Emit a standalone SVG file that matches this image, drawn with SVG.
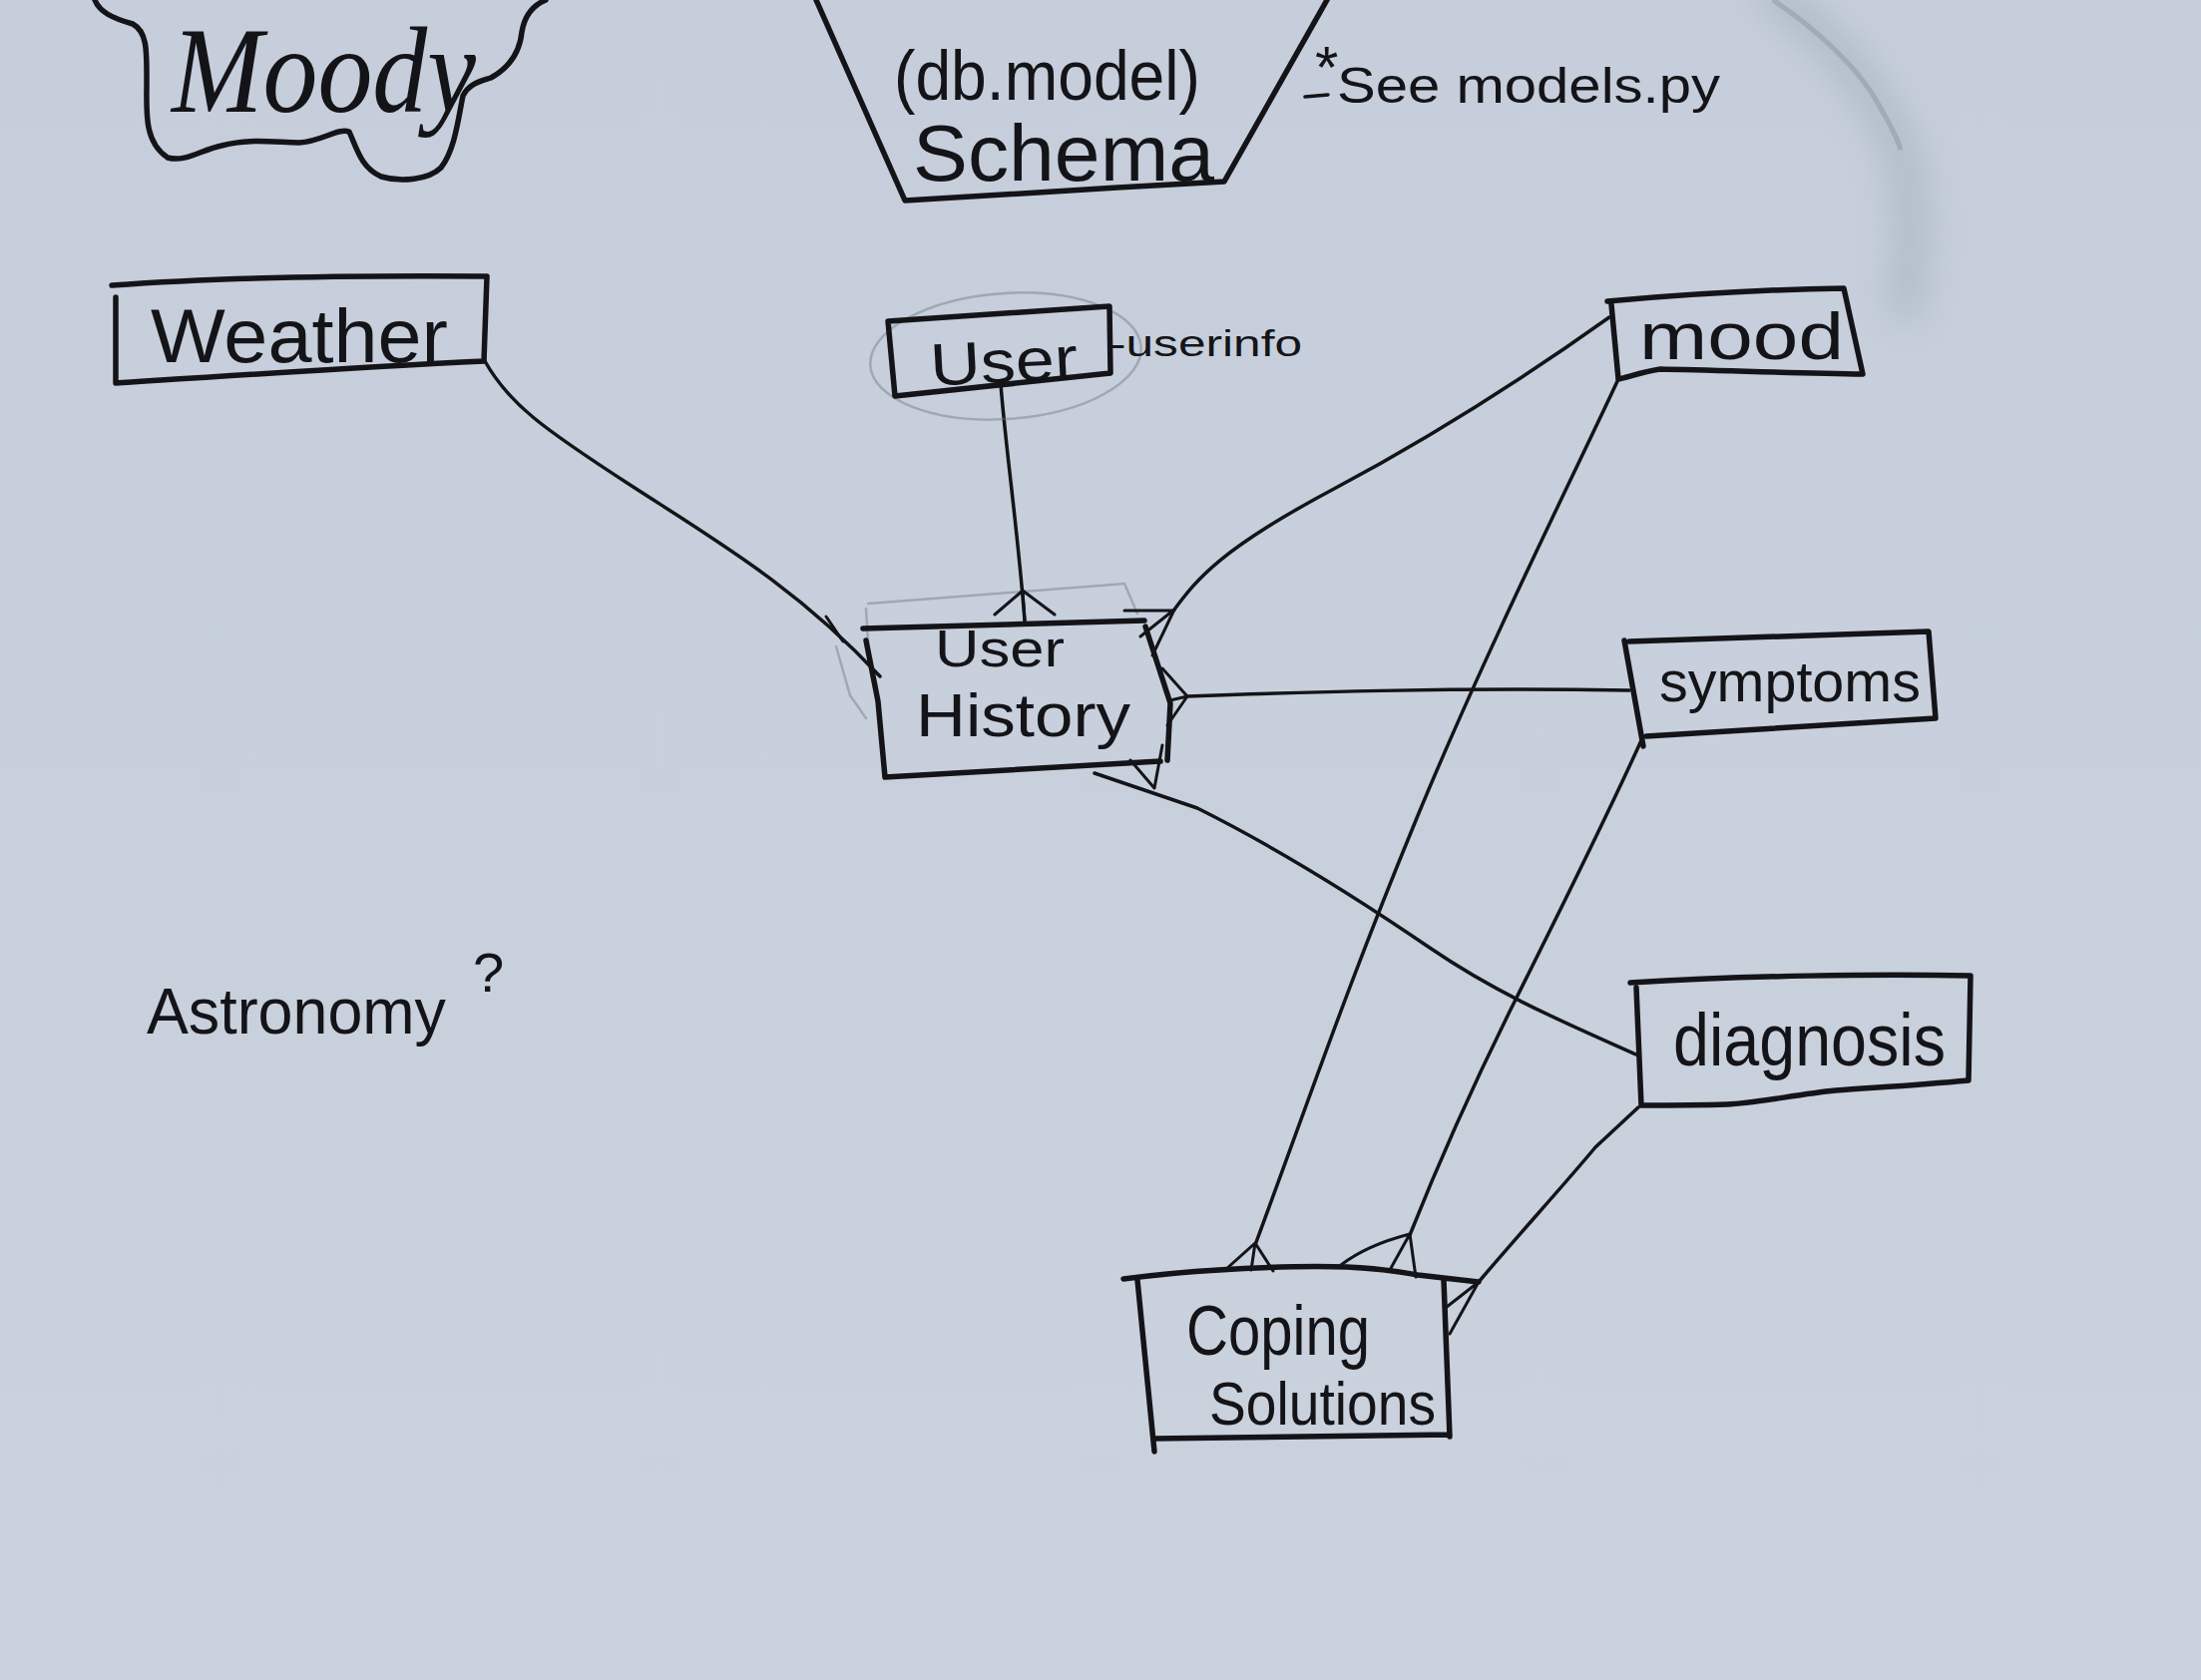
<svg xmlns="http://www.w3.org/2000/svg" width="2206" height="1684" viewBox="0 0 2206 1684">
<defs>
<style>
.ink{fill:none;stroke:#141418;stroke-linecap:round;stroke-linejoin:round}
.box{stroke-width:5.5}
.con{stroke-width:3.5}
.cf{stroke-width:3}
.pencil{fill:none;stroke:#6f7882;stroke-width:2.5;opacity:.45;stroke-linecap:round}
.t{font-family:"Liberation Sans","DejaVu Sans",sans-serif;fill:#141418}
.script{font-family:"Liberation Serif","DejaVu Serif",serif;font-style:italic;fill:#141418}
</style>
<linearGradient id="paper" x1="0" y1="0" x2="0" y2="1">
<stop offset="0" stop-color="#c5ceda"/>
<stop offset="1" stop-color="#c9d2dd"/>
</linearGradient>
<filter id="blur" x="-50%" y="-50%" width="200%" height="200%"><feGaussianBlur stdDeviation="18"/></filter>
</defs>
<rect width="2206" height="1684" fill="url(#paper)"/>
<path d="M1770,-10 C1830,30 1880,90 1905,150 C1922,210 1915,270 1908,320" fill="none" stroke="#7a8594" stroke-width="30" opacity=".3" filter="url(#blur)"/>
<path d="M1777,0 C1815,25 1860,65 1880,100 C1895,125 1902,140 1905,150" fill="none" stroke="#8a95a3" stroke-width="5" opacity=".5"/>

<g id="title-moody">
<path class="ink box" d="M95,0 C100,12 112,18 133,24 C148,32 147,52 147,83 C147,112 144,142 168,158 C186,163 202,150 222,146 C248,139 268,142 300,143 C322,142 338,128 350,132 C358,150 362,168 382,177 C402,183 430,180 442,168 C456,150 459,120 464,96 C470,84 480,82 492,78 C510,68 521,52 523,32 C526,14 535,5 547,0"/>
<text class="script" x="172" y="112" font-size="122" textLength="305" lengthAdjust="spacingAndGlyphs">Moody</text>
</g>

<g id="title-schema">
<path class="ink box" d="M818,0 L907,201 C1000,195 1120,188 1227,182 L1330,0"/>
<text class="t" x="896" y="100" font-size="70" textLength="307" lengthAdjust="spacingAndGlyphs">(db.model)</text>
<text class="t" x="915" y="181" font-size="80" textLength="302" lengthAdjust="spacingAndGlyphs">Schema</text>
</g>

<g id="note-models">
<text class="t" x="1318" y="88" font-size="60">*</text>
<path class="ink" stroke-width="3.5" d="M1308,97 L1331,95"/>
<text class="t" x="1340" y="103" font-size="50" textLength="384" lengthAdjust="spacingAndGlyphs">See models.py</text>
</g>

<g id="connectors">
<!-- Weather - User History -->
<path class="ink con" d="M486,362 C510,405 545,430 633,487 S 800,590 882,678"/>
<path class="ink cf" d="M828,618 L845,643"/>
<path class="pencil" d="M838,648 L852,697 L868,720 M870,605 L1127,585 L1140,615 M868,610 L870,645"/>
<!-- User - User History -->
<path class="ink con" d="M1003,385 C1008,450 1020,530 1027,622"/>
<path class="ink cf" d="M997,616 L1025,592 L1057,616 M1025,592 L1027,622"/>
<!-- mood - User History -->
<path class="ink con" d="M1613,318 C1540,370 1450,430 1337,490 S 1200,580 1177,611"/>
<path class="ink cf" d="M1177,611 L1143,638 M1177,611 L1155,657 M1127,612 L1177,612"/>
<!-- symptoms - User History -->
<path class="ink con" d="M1633,692 C1450,689 1300,694 1190,698"/>
<path class="ink cf" d="M1190,698 L1165,670 M1190,698 L1173,702 M1190,698 L1170,727"/>
<!-- User History - diagnosis -->
<path class="ink con" d="M1097,775 L1200,810 C1280,850 1360,900 1433,950 S 1580,1030 1642,1058"/>
<path class="ink cf" d="M1157,790 L1133,762 M1157,790 L1165,747"/>
<!-- mood - Coping Solutions -->
<path class="ink con" d="M1622,380 C1590,450 1490,650 1420,820 S 1320,1080 1258,1248"/>
<path class="ink cf" d="M1258,1246 L1229,1272 M1258,1246 L1254,1273 M1258,1246 L1276,1274"/>
<!-- symptoms - Coping Solutions -->
<path class="ink con" d="M1646,740 C1610,820 1560,920 1520,1000 S 1440,1170 1413,1238"/>
<path class="ink cf" d="M1413,1237 Q1370,1248 1344,1268 M1413,1237 L1393,1273 M1413,1237 L1419,1280"/>
<!-- diagnosis - Coping Solutions -->
<path class="ink con" d="M1642,1110 L1599,1150 C1570,1185 1520,1240 1482,1285"/>
<path class="ink cf" d="M1482,1285 L1450,1310 M1482,1285 L1453,1337"/>
</g>

<g id="node-weather">
<path class="ink box" d="M112,286 C220,278 360,276 488,277 L485,362 C360,368 240,376 116,384 M116,298 L116,384"/>
<text class="t" x="151" y="363" font-size="76" textLength="298" lengthAdjust="spacingAndGlyphs">Weather</text>
</g>

<g id="node-user">
<ellipse class="pencil" cx="1008" cy="357" rx="136" ry="63" transform="rotate(-4 1008 357)"/>
<path class="ink box" d="M890,322 L1112,307 L1113,374 L897,397 Z"/>
<text class="t" x="932" y="383" font-size="60" textLength="148" lengthAdjust="spacingAndGlyphs" transform="rotate(-3 1005 360)">User</text>
<text class="t" x="1112" y="357" font-size="36" textLength="193" lengthAdjust="spacingAndGlyphs">-userinfo</text>
</g>

<g id="node-user-history">
<path class="ink box" d="M865,630 L1147,622 M1148,628 L1173,705 L1170,762 M887,779 L1163,763 M868,642 L880,703 L887,779"/>
<text class="t" x="937" y="668" font-size="52" textLength="130" lengthAdjust="spacingAndGlyphs">User</text>
<text class="t" x="918" y="738" font-size="62" textLength="215" lengthAdjust="spacingAndGlyphs">History</text>
</g>

<g id="node-mood">
<path class="ink box" d="M1611,302 C1700,294 1780,290 1848,289 L1867,375 C1800,374 1720,371 1664,370 C1645,373 1632,378 1622,380 L1615,305"/>
<text class="t" x="1643" y="360" font-size="66" textLength="205" lengthAdjust="spacingAndGlyphs">mood</text>
</g>

<g id="node-symptoms">
<path class="ink box" d="M1633,643 L1933,633 L1940,720 L1650,738 M1628,642 L1647,748"/>
<text class="t" x="1663" y="703" font-size="58" textLength="262" lengthAdjust="spacingAndGlyphs">symptoms</text>
</g>

<g id="node-diagnosis">
<path class="ink box" d="M1634,985 C1750,978 1880,976 1975,978 L1973,1083 C1920,1088 1880,1090 1840,1093 C1800,1097 1760,1106 1731,1107 C1700,1108 1670,1108 1645,1108 L1640,990"/>
<text class="t" x="1677" y="1068" font-size="74" textLength="273" lengthAdjust="spacingAndGlyphs">diagnosis</text>
</g>

<g id="node-coping-solutions">
<path class="ink box" d="M1126,1282 C1200,1272 1300,1268 1350,1270 C1390,1272 1410,1276 1421,1278 L1482,1285 M1140,1283 L1157,1455 M1157,1442 L1453,1438 M1447,1283 L1453,1440"/>
<text class="t" x="1189" y="1358" font-size="70" textLength="184" lengthAdjust="spacingAndGlyphs">Coping</text>
<text class="t" x="1212" y="1428" font-size="62" textLength="227" lengthAdjust="spacingAndGlyphs">Solutions</text>
</g>

<g id="note-astronomy">
<text class="t" x="147" y="1036" font-size="64" textLength="300" lengthAdjust="spacingAndGlyphs">Astronomy</text>
<text class="t" x="474" y="994" font-size="56">?</text>
</g>
</svg>
